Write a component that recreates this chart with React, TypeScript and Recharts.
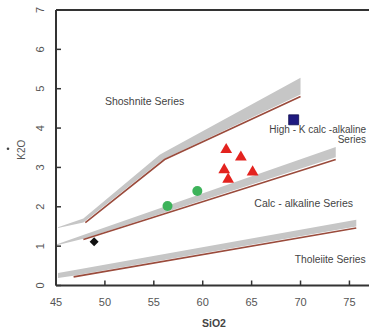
import { Area, ComposedChart, Line, ReferenceDot, ReferenceLine, Scatter, Symbols, XAxis, YAxis } from "recharts"

const xTicks = [45, 50, 55, 60, 65, 70, 75]
const yTicks = [0, 1, 2, 3, 4, 5, 6, 7]

// shoshonite / high-K boundary
const upperBandX = [45.2, 47.8, 55.6, 56.1, 70]
const upperBandLow = [1.46, 1.6, 3.14, 3.22, 4.85]
const upperBandHigh = [1.48, 1.7, 3.32, 3.39, 5.28]
const upperLineX = [48, 56.1, 70]
const upperLineY = [1.6, 3.2, 4.8]

// high-K / calc-alkaline boundary
const middleBandX = [45.1, 48, 73.6]
const middleBandLow = [1.02, 1.2, 3.26]
const middleBandHigh = [1.05, 1.3, 3.52]
const middleLineX = [47.8, 73.6]
const middleLineY = [1.17, 3.2]

// calc-alkaline / tholeiite boundary
const lowerBandX = [45.2, 46.8, 75.7]
const lowerBandLow = [0.19, 0.25, 1.5]
const lowerBandHigh = [0.32, 0.39, 1.67]
const lowerLineX = [46.8, 75.7]
const lowerLineY = [0.22, 1.46]

const diamondSamples = [{ x: 48.9, y: 1.11 }]
const circleSamples = [
  { x: 56.4, y: 2.02 },
  { x: 59.45, y: 2.4 },
]
const triangleSamples = [
  { x: 62.4, y: 3.45 },
  { x: 63.9, y: 3.26 },
  { x: 62.2, y: 2.94 },
  { x: 62.6, y: 2.7 },
  { x: 65.1, y: 2.88 },
]
const squareSamples = [{ x: 69.3, y: 4.21 }]

const annotations = [
  { x: 50.0, y: 4.68, text: "Shoshnite Series", anchor: "start", size: 10.5 },
  { x: 76.7, y: 3.96, text: "High - K calc -alkaline", anchor: "end", size: 10 },
  { x: 76.7, y: 3.7, text: "Series", anchor: "end", size: 10 },
  { x: 65.28, y: 2.09, text: "Calc - alkaline Series", anchor: "start", size: 10.5 },
  { x: 69.4, y: 0.65, text: "Tholeiite Series", anchor: "start", size: 10.3 },
]

const font = "'Liberation Sans', Arial, sans-serif"

type Row = { x: number; [key: string]: number | number[] }

const rows: Row[] = []
upperBandX.forEach((x, i) => rows.push({ x, upperBand: [upperBandLow[i], upperBandHigh[i]] }))
middleBandX.forEach((x, i) => rows.push({ x, middleBand: [middleBandLow[i], middleBandHigh[i]] }))
lowerBandX.forEach((x, i) => rows.push({ x, lowerBand: [lowerBandLow[i], lowerBandHigh[i]] }))
upperLineX.forEach((x, i) => rows.push({ x, upperLine: upperLineY[i] }))
middleLineX.forEach((x, i) => rows.push({ x, middleLine: middleLineY[i] }))
lowerLineX.forEach((x, i) => rows.push({ x, lowerLine: lowerLineY[i] }))
rows.sort((a, b) => a.x - b.x)

const YTick = (props: any) => {
  const { x, y, payload } = props
  return (
    <text
      x={x}
      y={y}
      transform={`rotate(-90 ${x} ${y})`}
      textAnchor="middle"
      dominantBaseline="central"
      fill="#555"
      fontSize={11}
      fontFamily={font}
    >
      {payload.value}
    </text>
  )
}

const YLabel = (props: any) => {
  const vb = props.viewBox || {}
  const cy = vb.height ? vb.y + vb.height / 2 + 2 : 150
  return (
    <g>
      <text
        x={21}
        y={cy}
        transform={`rotate(-90 21 ${cy})`}
        textAnchor="middle"
        dominantBaseline="central"
        fill="#555"
        fontSize={10}
        fontFamily={font}
      >
        K2O
      </text>
      <circle cx={8} cy={cy - 1} r={1.3} fill="#444" />
    </g>
  )
}

const diamondShape = (p: any) => (
  <polygon
    points={`${p.cx},${p.cy - 4.5} ${p.cx + 4.5},${p.cy} ${p.cx},${p.cy + 4.5} ${p.cx - 4.5},${p.cy}`}
    fill="#111"
  />
)

const annotationShape = (a: (typeof annotations)[number]) => (p: any) => (
  <text
    x={p.cx}
    y={p.cy}
    textAnchor={a.anchor}
    dominantBaseline="central"
    fill="#444"
    fontSize={a.size}
    fontFamily={font}
  >
    {a.text}
  </text>
)

export default function App() {
  return (
    <div style={{ position: "absolute", left: 0, top: 0, background: "#fff" }}>
      <ComposedChart width={369} height={330} data={rows} margin={{ top: 10, right: 0, bottom: 0, left: 0 }}>
        <XAxis
          type="number"
          dataKey="x"
          domain={[45, 77]}
          ticks={xTicks}
          height={44.5}
          tickSize={-5}
          tickMargin={18}
          axisLine={{ stroke: "#333", strokeWidth: 2 }}
          tickLine={{ stroke: "#333", strokeWidth: 1.5 }}
          tick={{ fill: "#555", fontSize: 11, fontFamily: font }}
          label={{
            value: "SiO2",
            position: "insideBottom",
            offset: 3,
            dx: 1.5,
            fill: "#444",
            fontSize: 10.5,
            fontWeight: "bold",
            fontFamily: font,
          }}
        />
        <YAxis
          type="number"
          domain={[0, 7]}
          ticks={yTicks}
          width={56}
          tickSize={-5}
          tickMargin={21}
          axisLine={{ stroke: "#333", strokeWidth: 2 }}
          tickLine={{ stroke: "#333", strokeWidth: 1.5 }}
          tick={YTick}
          label={YLabel}
        />
        <ReferenceLine y={7} stroke="#333" strokeWidth={2} />

        <Area dataKey="upperBand" type="linear" fill="#c6c6c6" fillOpacity={1} stroke="none" connectNulls isAnimationActive={false} />
        <Area dataKey="middleBand" type="linear" fill="#c6c6c6" fillOpacity={1} stroke="none" connectNulls isAnimationActive={false} />
        <Area dataKey="lowerBand" type="linear" fill="#c6c6c6" fillOpacity={1} stroke="none" connectNulls isAnimationActive={false} />
        <Line dataKey="upperLine" type="linear" stroke="#9a4b3c" strokeWidth={1.6} dot={false} connectNulls isAnimationActive={false} />
        <Line dataKey="middleLine" type="linear" stroke="#9a4b3c" strokeWidth={1.6} dot={false} connectNulls isAnimationActive={false} />
        <Line dataKey="lowerLine" type="linear" stroke="#9a4b3c" strokeWidth={1.6} dot={false} connectNulls isAnimationActive={false} />

        <Scatter data={diamondSamples} dataKey="y" shape={diamondShape} isAnimationActive={false} />
        <Scatter
          data={circleSamples}
          dataKey="y"
          shape={(p: any) => <circle cx={p.cx} cy={p.cy} r={5} fill="#3db35a" />}
          isAnimationActive={false}
        />
        <Scatter
          data={triangleSamples}
          dataKey="y"
          shape={(p: any) => <Symbols cx={p.cx} cy={p.cy} type="triangle" size={60} fill="#e3231f" />}
          isAnimationActive={false}
        />
        <Scatter
          data={squareSamples}
          dataKey="y"
          shape={(p: any) => <Symbols cx={p.cx} cy={p.cy} type="square" size={100} fill="#1f1a80" stroke="#12104f" strokeWidth={0.8} />}
          isAnimationActive={false}
        />

        {annotations.map((a) => (
          <ReferenceDot key={a.text} x={a.x} y={a.y} r={0} shape={annotationShape(a)} />
        ))}
      </ComposedChart>
    </div>
  )
}
